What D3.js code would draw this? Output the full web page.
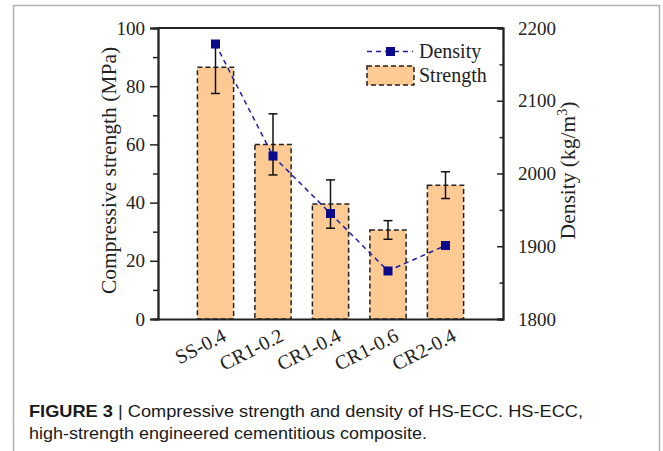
<!DOCTYPE html>
<html>
<head>
<meta charset="utf-8">
<script src="https://cdn.jsdelivr.net/npm/d3@7"></script>
<style>
  html, body { margin: 0; padding: 0; background: #fff; }
  svg { display: block; }
</style>
</head>
<body>
<svg id="chart" width="663" height="451"></svg>
<script>
// ---- data ----
const categories = ["SS-0.4", "CR1-0.2", "CR1-0.4", "CR1-0.6", "CR2-0.4"];
const strength = [86.5, 60, 39.5, 30.6, 46];
const strengthErr = [9, 10.5, 8.3, 3.2, 4.6];
const density = [2178, 2024, 1945, 1866, 1901];
const leftTicks = [0, 20, 40, 60, 80, 100];
const leftMinor = [10, 30, 50, 70, 90];
const rightTicks = [1800, 1900, 2000, 2100, 2200];
const rightMinor = [1850, 1950, 2050, 2150];

const svg = d3.select("#chart");
const L = 158, R = 503, T = 28, B = 319;
const serif = "'Liberation Serif', 'Times New Roman', serif";

// frame
svg.append("path")
  .attr("d", `M13.5,460 V5.5 H659.5 V460`)
  .attr("fill", "none").attr("stroke", "#b0b0b0").attr("stroke-width", 1.5);

const x = d3.scalePoint().domain(categories).range([L, R]).padding(1);
const barW = x.step() * 0.63;
const yL = d3.scaleLinear().domain([0, 100]).range([B, T]);
const yR = d3.scaleLinear().domain([1800, 2200]).range([B, T]);

const g = svg.append("g");

// bars
g.selectAll("rect.bar").data(categories).join("rect")
  .attr("class", "bar")
  .attr("x", d => x(d) - barW / 2)
  .attr("width", barW)
  .attr("y", (d, i) => yL(strength[i]))
  .attr("height", (d, i) => yL(0) - yL(strength[i]))
  .attr("fill", "#fdca94")
  .attr("stroke", "#222").attr("stroke-width", 1.5)
  .attr("stroke-dasharray", "5,3");

// error bars
const eg = g.append("g").attr("stroke", "#111").attr("stroke-width", 1.5);
categories.forEach((c, i) => {
  const cx = x(c);
  const y1 = yL(strength[i] + strengthErr[i]);
  const y2 = yL(strength[i] - strengthErr[i]);
  eg.append("line").attr("x1", cx).attr("x2", cx).attr("y1", y1).attr("y2", y2);
  eg.append("line").attr("x1", cx - 4.5).attr("x2", cx + 4.5).attr("y1", y1).attr("y2", y1);
  eg.append("line").attr("x1", cx - 4.5).attr("x2", cx + 4.5).attr("y1", y2).attr("y2", y2);
});

// density line
const line = d3.line().x((d, i) => x(categories[i])).y(d => yR(d));
g.append("path").datum(density)
  .attr("d", line)
  .attr("fill", "none").attr("stroke", "#1c1ca8").attr("stroke-width", 1.5)
  .attr("stroke-dasharray", "5,4");
g.selectAll("rect.mk").data(density).join("rect")
  .attr("class", "mk")
  .attr("x", (d, i) => x(categories[i]) - 4.5)
  .attr("y", d => yR(d) - 4.5)
  .attr("width", 9).attr("height", 9)
  .attr("fill", "#0a0a8a");

// axes
const axL = d3.axisLeft(yL).tickValues(leftTicks).tickSize(8).tickPadding(5).tickFormat(d3.format("d"));
svg.append("g").attr("transform", `translate(${L},0)`).call(axL);
svg.append("g").attr("transform", `translate(${L},0)`)
  .call(d3.axisLeft(yL).tickValues(leftMinor).tickSize(5).tickFormat(""));

const axR = d3.axisRight(yR).tickValues(rightTicks).tickSize(-6).tickPadding(15).tickFormat(d3.format("d"));
svg.append("g").attr("transform", `translate(${R},0)`).call(axR);
svg.append("g").attr("transform", `translate(${R},0)`)
  .call(d3.axisRight(yR).tickValues(rightMinor).tickSize(-3.5).tickFormat(""));

const axB = d3.axisBottom(x).tickSize(0).tickFormat("");
svg.append("g").attr("transform", `translate(0,${B})`).call(axB);

svg.selectAll(".domain").attr("stroke", "#222").attr("stroke-width", 1.8);
svg.selectAll(".tick line").attr("stroke", "#222").attr("stroke-width", 1.5);
svg.selectAll(".tick text").attr("font-family", serif).attr("font-size", 19).attr("fill", "#222");

// top border
svg.append("line").attr("x1", L).attr("x2", R).attr("y1", T).attr("y2", T)
  .attr("stroke", "#222").attr("stroke-width", 1.8);

// x labels
svg.append("g").selectAll("text").data(categories).join("text")
  .attr("transform", d => `translate(${x(d) + 12},${B + 21}) rotate(-27)`)
  .attr("text-anchor", "end")
  .attr("font-family", serif).attr("font-size", 20).attr("fill", "#222")
  .text(d => d);

// axis titles
svg.append("text")
  .attr("transform", `translate(116,${(T + B) / 2 - 3}) rotate(-90)`)
  .attr("text-anchor", "middle")
  .attr("font-family", serif).attr("font-size", 21.5).attr("fill", "#222")
  .text("Compressive strength (MPa)");

const rt = svg.append("text")
  .attr("transform", `translate(575,${(T + B) / 2 - 3}) rotate(-90)`)
  .attr("text-anchor", "middle")
  .attr("font-family", serif).attr("font-size", 21.5).attr("fill", "#222");
rt.append("tspan").text("Density (kg/m");
rt.append("tspan").attr("dy", -8).attr("font-size", 14).text("3");
rt.append("tspan").attr("dy", 8).text(")");

// legend
const lg = svg.append("g");
lg.append("line").attr("x1", 367).attr("x2", 413).attr("y1", 51.5).attr("y2", 51.5)
  .attr("stroke", "#1c1ca8").attr("stroke-width", 1.5).attr("stroke-dasharray", "5,4");
lg.append("rect").attr("x", 386).attr("y", 47).attr("width", 9).attr("height", 9).attr("fill", "#0a0a8a");
lg.append("text").attr("x", 419).attr("y", 58).attr("font-family", serif)
  .attr("font-size", 20).attr("fill", "#222").text("Density");
lg.append("rect").attr("x", 367).attr("y", 66).attr("width", 47).attr("height", 19)
  .attr("fill", "#fdca94").attr("stroke", "#222").attr("stroke-width", 1.5)
  .attr("stroke-dasharray", "5,3");
lg.append("text").attr("x", 419).attr("y", 82).attr("font-family", serif)
  .attr("font-size", 20).attr("fill", "#222").text("Strength");

// caption
const sans = "'Liberation Sans', Arial, Helvetica, sans-serif";
const c1 = svg.append("text").attr("x", 29).attr("y", 417)
  .attr("font-family", sans).attr("font-size", 16.5).attr("fill", "#1a1a1a")
  .attr("textLength", 554).attr("lengthAdjust", "spacingAndGlyphs");
c1.append("tspan").attr("font-weight", "bold").text("FIGURE 3");
c1.append("tspan").text(" | Compressive strength and density of HS-ECC. HS-ECC,");
svg.append("text").attr("x", 29).attr("y", 439)
  .attr("font-family", sans).attr("font-size", 16.5).attr("fill", "#1a1a1a")
  .attr("textLength", 398).attr("lengthAdjust", "spacingAndGlyphs")
  .text("high-strength engineered cementitious composite.");
</script>
</body>
</html>
